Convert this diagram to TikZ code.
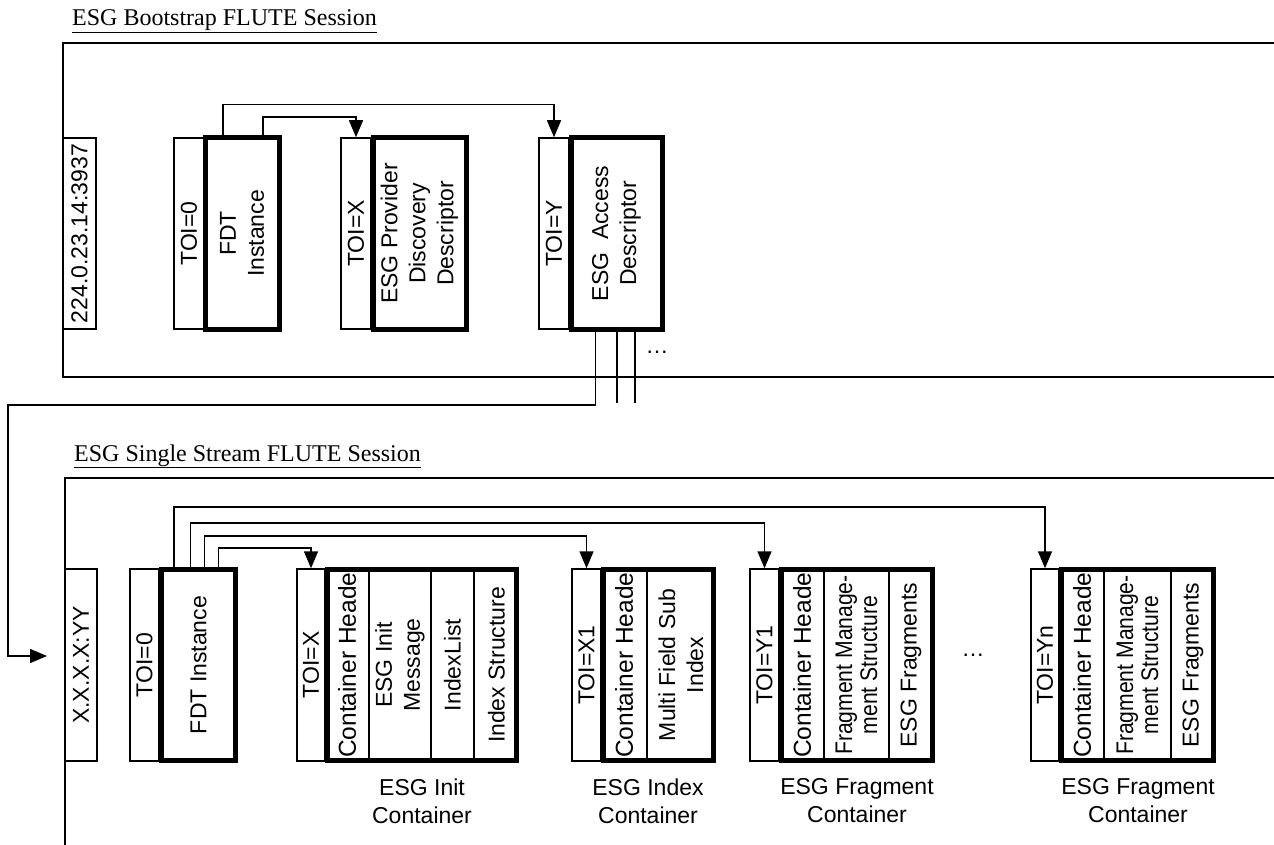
\documentclass[tikz,border=0pt]{standalone}
\usepackage{fontspec}
\setmainfont{Liberation Serif}
\setsansfont{Liberation Sans}
\newfontfamily\narrowsf[FakeStretch=0.88]{Liberation Sans}
\usetikzlibrary{arrows.meta}

\begin{document}
\begin{tikzpicture}[x=1pt,y=-1pt,
  thinbox/.style={draw,line width=1.5pt,inner sep=0pt},
  thickbox/.style={draw,line width=5pt,inner sep=0pt},
  vtext/.style={rotate=90,align=center,inner sep=0pt,font=\sffamily\fontsize{23}{28}\selectfont},
  hdrtext/.style={rotate=90,anchor=west,inner sep=0pt,font=\sffamily\fontsize{24.5}{28}\selectfont},
  mgmttext/.style={rotate=90,align=center,inner sep=0pt,font=\narrowsf\fontsize{24}{25}\selectfont},
  caption/.style={align=center,inner sep=0pt,font=\sffamily\fontsize{23}{28}\selectfont},
  title/.style={anchor=base west,inner sep=0pt,font=\fontsize{24}{28}\selectfont},
  conn/.style={line width=1.5pt,-{Triangle[length=17pt,width=14pt]}},
  wire/.style={line width=1.5pt}]
\useasboundingbox (0,0) rectangle (1274,845);

% bootstrap session
\node[title] (boottitle) at (72,26) {\underline{ESG Bootstrap FLUTE Session}};
\draw[wire] (1274,43) -- (63,43) -- (63,377) -- (1274,377);

\node[thinbox,minimum width=33pt,minimum height=191pt] (addr) at (79.5,233.5) {};
\node[vtext] at (addr) {224.0.23.14:3937};
\node[thinbox,minimum width=30pt,minimum height=191pt] (toi0) at (189,233.5) {};
\node[vtext] at (toi0) {TOI=0};
\node[thickbox,minimum width=74pt,minimum height=191pt] (fdt) at (242,233.5) {};
\node[vtext] at (fdt) {FDT\\Instance};
\node[thinbox,minimum width=30pt,minimum height=191pt] (toix) at (356,233.5) {};
\node[vtext] at (toix) {TOI=X};
\node[thickbox,minimum width=93pt,minimum height=191pt] (provider) at (419.5,233.5) {};
\node[vtext] at (provider) {ESG Provider\\Discovery\\Descriptor};
\node[thinbox,minimum width=30pt,minimum height=191pt] (toiy) at (554,233.5) {};
\node[vtext] at (toiy) {TOI=Y};
\node[thickbox,minimum width=91pt,minimum height=191pt] (access) at (616.5,233.5) {};
\node[vtext] at (access) {ESG\ \ Access\\Descriptor};

\draw[conn] ([xshift=-19pt]fdt.north) -- ++(0,-31) -| (toiy.north);
\draw[conn] ([xshift=21pt]fdt.north) -- ++(0,-18.5) -| (toix.north);

% link into the single stream session
\coordinate (bend) at (8,405);
\coordinate (entry) at (47,656);
\draw[conn] ([xshift=-21pt]access.south) |- (bend) |- (entry);
\draw[wire] ([xshift=0.5pt]access.south) -- ++(0,71);
\draw[wire] ([xshift=18.5pt]access.south) -- ++(0,71);
\node[caption] (moreacc) at (657,352) {\ldots};

% single stream session
\node[title] (singletitle) at (74,461) {\underline{ESG Single Stream FLUTE Session}};
\draw[wire] (1274,478) -- (65,478) -- (65,845);

\node[thinbox,minimum width=32pt,minimum height=192pt] (xaddr) at (81,665) {};
\node[vtext] at (xaddr) {X.X.X.X:YY};
\node[thinbox,minimum width=29pt,minimum height=192pt] (btoi0) at (144.5,665) {};
\node[vtext] at (btoi0) {TOI=0};
\node[thickbox,minimum width=74pt,minimum height=191pt] (bfdt) at (198.5,665) {};
\node[vtext] at (bfdt) {FDT Instance};

% init container
\node[thinbox,minimum width=28pt,minimum height=192pt] (btoix) at (311,665) {};
\node[vtext] at (btoix) {TOI=X};
\node[thickbox,minimum width=189pt,minimum height=191pt] (init) at (422,665) {};
\draw[wire] (369,569) -- (369,761);
\draw[wire] (431,569) -- (431,761);
\draw[wire] (474,569) -- (474,761);
\begin{scope}
\clip (327.5,569.5) rectangle (369,760.5);
\node[hdrtext] at (347,758) {Container Header};
\end{scope}
\node[vtext] at (400,665) {ESG Init\\Message};
\node[vtext] at (452.5,665) {IndexList};
\node[vtext] at (496.5,665) {Index Structure};
\node[caption] (initlabel) at (422,801) {ESG Init\\Container};

% index container
\node[thinbox,minimum width=29pt,minimum height=192pt] (btoix1) at (586.5,665) {};
\node[vtext] at (btoix1) {TOI=X1};
\node[thickbox,minimum width=110pt,minimum height=191pt] (index) at (658.5,665) {};
\draw[wire] (647,569) -- (647,761);
\begin{scope}
\clip (603.5,569.5) rectangle (647,760.5);
\node[hdrtext] at (624,758) {Container Header};
\end{scope}
\node[vtext] at (681,665) {Multi Field Sub\\Index};
\node[caption] (indexlabel) at (648,801) {ESG Index\\Container};

% first fragment container
\node[thinbox,minimum width=29pt,minimum height=192pt] (btoiy1) at (764.5,665) {};
\node[vtext] at (btoiy1) {TOI=Y1};
\node[thickbox,minimum width=151pt,minimum height=191pt] (fraga) at (857,665) {};
\draw[wire] (824,569) -- (824,761);
\draw[wire] (889,569) -- (889,761);
\begin{scope}
\clip (781.5,569.5) rectangle (824,760.5);
\node[hdrtext] at (802,758) {Container Header};
\end{scope}
\node[mgmttext] at (856.5,665) {Fragment Manage-\\ment Structure};
\node[vtext] at (911,665) {ESG Fragments};
\node[caption] (fragalabel) at (857,801) {ESG Fragment\\Container};

\node[caption] (morefrag) at (973,655) {\ldots};

% last fragment container
\node[thinbox,minimum width=28pt,minimum height=192pt] (btoiyn) at (1045,665) {};
\node[vtext] at (btoiyn) {TOI=Yn};
\node[thickbox,minimum width=152pt,minimum height=191pt] (fragb) at (1137.5,665) {};
\draw[wire] (1104,569) -- (1104,761);
\draw[wire] (1171,569) -- (1171,761);
\begin{scope}
\clip (1061.5,569.5) rectangle (1104,760.5);
\node[hdrtext] at (1082,758) {Container Header};
\end{scope}
\node[mgmttext] at (1137.5,665) {Fragment Manage-\\ment Structure};
\node[vtext] at (1193,665) {ESG Fragments};
\node[caption] (fragblabel) at (1138,801) {ESG Fragment\\Container};

\draw[conn] ([xshift=-24.5pt]bfdt.north) -- ++(0,-60) -| (btoiyn.north);
\draw[conn] ([xshift=-8pt]bfdt.north) -- ++(0,-44) -| (btoiy1.north);
\draw[conn] ([xshift=6pt]bfdt.north) -- ++(0,-31) -| (btoix1.north);
\draw[conn] ([xshift=20pt]bfdt.north) -- ++(0,-19) -| (btoix.north);
\end{tikzpicture}
\end{document}
